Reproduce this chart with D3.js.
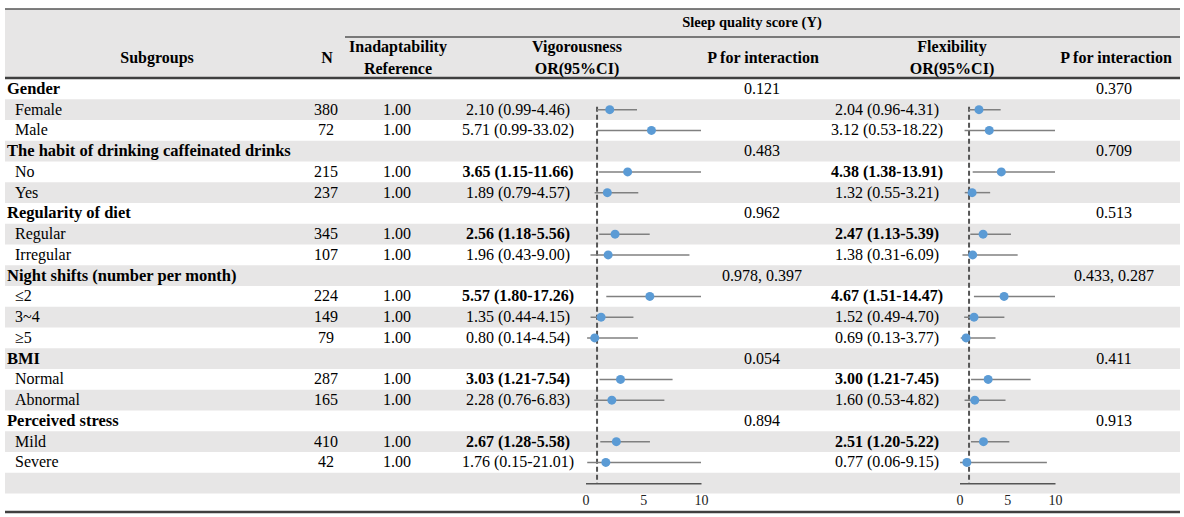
<!DOCTYPE html>
<html>
<head>
<meta charset="utf-8">
<script src="https://cdn.jsdelivr.net/npm/d3@7"></script>
<style>
body { margin: 0; background: #fff; }
svg { font-family: "Liberation Serif", "Times New Roman", serif; }
</style>
</head>
<body>
<svg width="1184" height="517"></svg>
<script>
// table rows, top to bottom
var rowLabels = ["Gender", "Female", "Male",
  "The habit of drinking caffeinated drinks", "No", "Yes",
  "Regularity of diet", "Regular", "Irregular",
  "Night shifts (number per month)", "\u22642", "3~4", "\u22655",
  "BMI", "Normal", "Abnormal",
  "Perceived stress", "Mild", "Severe"];
var isGroup = [1,0,0, 1,0,0, 1,0,0, 1,0,0,0, 1,0,0, 1,0,0];
var nValues = [null,380,72, null,215,237, null,345,107, null,224,149,79, null,287,165, null,410,42];

// Vigorousness OR (95% CI)
var vigOR = [null,2.10,5.71, null,3.65,1.89, null,2.56,1.96, null,5.57,1.35,0.80, null,3.03,2.28, null,2.67,1.76];
var vigLo = [null,0.99,0.99, null,1.15,0.79, null,1.18,0.43, null,1.80,0.44,0.14, null,1.21,0.76, null,1.28,0.15];
var vigHi = [null,4.46,33.02, null,11.66,4.57, null,5.56,9.00, null,17.26,4.15,4.54, null,7.54,6.83, null,5.58,21.01];
var vigBold = [0,0,0, 0,1,0, 0,1,0, 0,1,0,0, 0,1,0, 0,1,0];
var vigP = ["0.121","","", "0.483","","", "0.962","","", "0.978, 0.397","","","", "0.054","","", "0.894","",""];

// Flexibility OR (95% CI)
var flexOR = [null,2.04,3.12, null,4.38,1.32, null,2.47,1.38, null,4.67,1.52,0.69, null,3.00,1.60, null,2.51,0.77];
var flexLo = [null,0.96,0.53, null,1.38,0.55, null,1.13,0.31, null,1.51,0.49,0.13, null,1.21,0.53, null,1.20,0.06];
var flexHi = [null,4.31,18.22, null,13.91,3.21, null,5.39,6.09, null,14.47,4.70,3.77, null,7.45,4.82, null,5.22,9.15];
var flexBold = [0,0,0, 0,1,0, 0,1,0, 0,1,0,0, 0,1,0, 0,1,0];
var flexP = ["0.370","","", "0.709","","", "0.513","","", "0.433, 0.287","","","", "0.411","","", "0.913","",""];

var axisTicks = [0, 5, 10];

var svg = d3.select("svg");
var rowH = 20.75, top0 = 78.5;
var nRows = rowLabels.length + 2;   // + empty row + axis row
var y = d3.scaleLinear().domain([0, nRows]).range([top0, top0 + nRows * rowH]);
var xVig = d3.scaleLinear().domain([0, 10]).range([585.5, 701]);
var xFlex = d3.scaleLinear().domain([0, 10]).range([959.5, 1055]);

var fmt = d3.format(".2f");
function orText(or, lo, hi) { return fmt(or) + " (" + fmt(lo) + "-" + fmt(hi) + ")"; }

// header band
svg.append("rect").attr("x", 5).attr("y", 9).attr("width", 1175).attr("height", 69).attr("fill", "#e7e6e6");

// row shading
svg.append("g").selectAll("rect")
  .data(d3.range(nRows - 1).filter(function(i) { return i % 2 == 1; }))
  .enter().append("rect")
  .attr("x", 5).attr("width", 1175)
  .attr("y", function(i) { return y(i); })
  .attr("height", rowH)
  .attr("fill", "#e7e6e6");

// rules
svg.append("line").attr("x1", 5).attr("x2", 1180).attr("y1", 9).attr("y2", 9).attr("stroke", "#555").attr("stroke-width", 1.5);
svg.append("line").attr("x1", 345).attr("x2", 1180).attr("y1", 37).attr("y2", 37).attr("stroke", "#555").attr("stroke-width", 1.5);
svg.append("line").attr("x1", 5).attr("x2", 1180).attr("y1", 78).attr("y2", 78).attr("stroke", "#404040").attr("stroke-width", 2.5);
svg.append("line").attr("x1", 5).attr("x2", 1180).attr("y1", 512).attr("y2", 512).attr("stroke", "#404040").attr("stroke-width", 2.5);

// header text
var head = svg.append("g").attr("font-weight", "bold").attr("font-size", 16).attr("text-anchor", "middle").attr("fill", "#000");
head.append("text").attr("x", 752).attr("y", 27).attr("font-size", 14.5).text("Sleep quality score (Y)");
head.append("text").attr("x", 157).attr("y", 63).text("Subgroups");
head.append("text").attr("x", 327).attr("y", 63).text("N");
head.append("text").attr("x", 398).attr("y", 52).text("Inadaptability");
head.append("text").attr("x", 398).attr("y", 74).text("Reference");
head.append("text").attr("x", 577).attr("y", 52).text("Vigorousness");
head.append("text").attr("x", 577).attr("y", 74).text("OR(95%CI)");
head.append("text").attr("x", 763).attr("y", 63).text("P for interaction");
head.append("text").attr("x", 952).attr("y", 52).text("Flexibility");
head.append("text").attr("x", 952).attr("y", 74).text("OR(95%CI)");
head.append("text").attr("x", 1116).attr("y", 63).text("P for interaction");

// body rows
var rows = svg.append("g").attr("font-size", 16).attr("fill", "#000")
  .selectAll("g").data(rowLabels).enter().append("g")
  .attr("transform", function(d, i) { return "translate(0," + (y(i + 0.5) + 5) + ")"; });

rows.append("text")
  .attr("x", function(d, i) { return isGroup[i] ? 7 : 15; })
  .attr("font-weight", function(d, i) { return isGroup[i] ? "bold" : null; })
  .attr("font-size", function(d, i) { return isGroup[i] ? 16.5 : null; })
  .text(function(d) { return d; });

rows.each(function(d, i) {
  var g = d3.select(this).append("g").attr("text-anchor", "middle");
  if (isGroup[i]) {
    g.append("text").attr("x", 762).text(vigP[i]);
    g.append("text").attr("x", 1114).text(flexP[i]);
    return;
  }
  g.append("text").attr("x", 326).text(nValues[i]);
  g.append("text").attr("x", 397).text("1.00");
  g.append("text").attr("x", 518).attr("font-weight", vigBold[i] ? "bold" : null)
    .text(orText(vigOR[i], vigLo[i], vigHi[i]));
  g.append("text").attr("x", 887).attr("font-weight", flexBold[i] ? "bold" : null)
    .text(orText(flexOR[i], flexLo[i], flexHi[i]));
});

// forest plots
var axisY = y(rowLabels.length + 0.5);
function forest(x, ors, los, his) {
  var g = svg.append("g");
  g.append("line")
    .attr("x1", x(1)).attr("x2", x(1))
    .attr("y1", y(1.5) - 3).attr("y2", axisY)
    .attr("stroke", "#555").attr("stroke-width", 2).attr("stroke-dasharray", "5,3");
  var idx = d3.range(rowLabels.length).filter(function(i) { return !isGroup[i]; });
  g.selectAll(".ci").data(idx).enter().append("line")
    .attr("x1", function(i) { return x(los[i]); })
    .attr("x2", function(i) { return x(Math.min(his[i], 10)); })
    .attr("y1", function(i) { return y(i + 0.5); })
    .attr("y2", function(i) { return y(i + 0.5); })
    .attr("stroke", "#808080").attr("stroke-width", 1.5);
  g.selectAll(".pt").data(idx).enter().append("circle")
    .attr("cx", function(i) { return x(ors[i]); })
    .attr("cy", function(i) { return y(i + 0.5); })
    .attr("r", 4.5)
    .attr("fill", "#5b9bd5");
  var ax = g.append("g").attr("transform", "translate(0," + axisY + ")")
    .call(d3.axisBottom(x).tickValues(axisTicks).tickSize(0).tickPadding(12).tickSizeOuter(0));
  ax.select(".domain").attr("stroke", "#555").attr("stroke-width", 1.5);
  ax.selectAll("text").attr("font-family", "Liberation Serif, serif").attr("font-size", 14).attr("fill", "#222");
}
forest(xVig, vigOR, vigLo, vigHi);
forest(xFlex, flexOR, flexLo, flexHi);
</script>
</body>
</html>
